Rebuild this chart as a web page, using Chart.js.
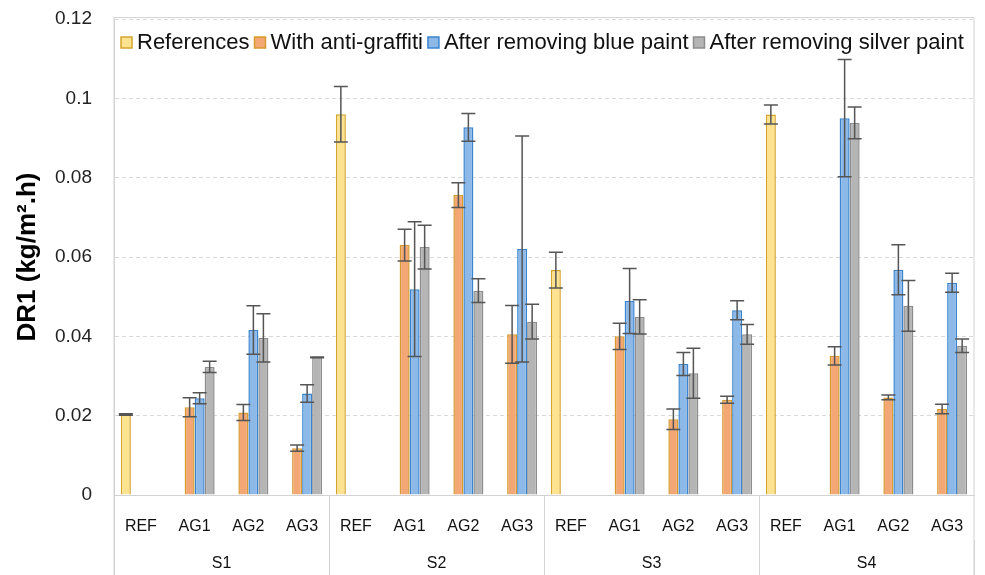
<!DOCTYPE html>
<html>
<head>
<meta charset="utf-8">
<script src="https://cdn.jsdelivr.net/npm/chart.js@4/dist/chart.umd.min.js"></script>
<style>
  html, body { margin: 0; padding: 0; background: #fff; }
  #wrap { width: 985px; height: 575px; }
</style>
</head>
<body>
<div id="wrap"><canvas id="drChart" width="985" height="575"></canvas></div>
<script>
// categories
var groups = ['S1', 'S2', 'S3', 'S4'];
var samples = ['REF', 'AG1', 'AG2', 'AG3'];
var labels = [];
groups.forEach(function () { samples.forEach(function (s) { labels.push(s); }); });

var yTickLabels = ['0', '0.02', '0.04', '0.06', '0.08', '0.1', '0.12'];

// series values (kg/m².h) and error bars
var references     = [0.0203, null, null, null, 0.096, null, null, null, 0.0567, null, null, null, 0.0959, null, null, null];
var referencesErr  = [0.0002, null, null, null, 0.007, null, null, null, 0.0045, null, null, null, 0.0024, null, null, null];
var antiGraffiti   = [null, 0.0221, 0.0208, 0.0118, null, 0.063, 0.0756, 0.0405, null, 0.040, 0.0191, 0.024, null, 0.0351, 0.0246, 0.0217];
var antiErr        = [null, 0.0024, 0.002, 0.0008, null, 0.004, 0.0031, 0.0073, null, 0.0033, 0.0026, 0.0009, null, 0.0023, 0.0006, 0.0012];
var bluePaint      = [null, 0.0244, 0.0416, 0.0256, null, 0.0519, 0.0927, 0.062, null, 0.0489, 0.033, 0.0466, null, 0.095, 0.0568, 0.0535];
var blueErr        = [null, 0.0014, 0.0061, 0.0022, null, 0.017, 0.0035, 0.0285, null, 0.0082, 0.0029, 0.0024, null, 0.0148, 0.0063, 0.0024];
var silverPaint    = [null, 0.0323, 0.0396, 0.0347, null, 0.0625, 0.0515, 0.0437, null, 0.0449, 0.0307, 0.0405, null, 0.0938, 0.0477, 0.0376];
var silverErr      = [null, 0.0014, 0.0061, 0.0001, null, 0.0055, 0.003, 0.0044, null, 0.0043, 0.0063, 0.0025, null, 0.004, 0.0064, 0.0017];

var FONT = "'Liberation Sans', Arial, Helvetica, sans-serif";
var FRAME = '#d3d3d3';

// error bars drawn from the y scale
var errorBars = {
  id: 'errorBars',
  afterDatasetsDraw: function (chart) {
    var ctx = chart.ctx;
    var y = chart.scales.y;
    ctx.save();
    ctx.strokeStyle = '#555';
    ctx.lineWidth = 1.5;
    chart.data.datasets.forEach(function (ds, i) {
      var meta = chart.getDatasetMeta(i);
      meta.data.forEach(function (bar, j) {
        var v = ds.data[j], e = ds.errors[j];
        if (v == null || e == null) return;
        var top = y.getPixelForValue(v + e), bot = y.getPixelForValue(v - e);
        var cx = bar.x, cap = 7;
        ctx.beginPath();
        ctx.moveTo(cx, top); ctx.lineTo(cx, bot);
        ctx.moveTo(cx - cap, top); ctx.lineTo(cx + cap, top);
        ctx.moveTo(cx - cap, bot); ctx.lineTo(cx + cap, bot);
        ctx.stroke();
      });
    });
    ctx.restore();
  }
};

// outer frame + legend inside the plot
var frameLegend = {
  id: 'frameLegend',
  afterDraw: function (chart) {
    var ctx = chart.ctx, a = chart.chartArea, h = chart.height;
    ctx.save();
    ctx.strokeStyle = FRAME;
    ctx.lineWidth = 1;
    ctx.beginPath();
    ctx.moveTo(a.left, h); ctx.lineTo(a.left, a.top - 1.5);
    ctx.lineTo(a.right, a.top - 1.5); ctx.lineTo(a.right, h);
    ctx.stroke();

    ctx.font = '22px ' + FONT;
    ctx.textBaseline = 'middle';
    var x = a.left + 7, yMid = 42.5;
    chart.data.datasets.forEach(function (ds) {
      ctx.fillStyle = ds.backgroundColor;
      ctx.strokeStyle = ds.borderColor;
      ctx.lineWidth = 1.5;
      ctx.fillRect(x, yMid - 5.5, 11, 11);
      ctx.strokeRect(x, yMid - 5.5, 11, 11);
      x += 16;
      ctx.fillStyle = '#111';
      ctx.fillText(ds.label, x, yMid);
      x += ctx.measureText(ds.label).width + 5;
    });
    ctx.restore();
  }
};

function divider(c) { return c.index % 4 === 0 ? FRAME : 'rgba(0,0,0,0)'; }

new Chart(document.getElementById('drChart').getContext('2d'), {
  type: 'bar',
  data: {
    labels: labels,
    datasets: [{
      label: 'References', data: references, errors: referencesErr,
      backgroundColor: '#fde28f', borderColor: '#d4a52c'
    }, {
      label: 'With anti-graffiti', data: antiGraffiti, errors: antiErr,
      backgroundColor: '#f2a775', borderColor: '#d69a2e'
    }, {
      label: 'After removing blue paint', data: bluePaint, errors: blueErr,
      backgroundColor: '#8db9e8', borderColor: '#3a84cf'
    }, {
      label: 'After removing silver paint', data: silverPaint, errors: silverErr,
      backgroundColor: '#b5b5b5', borderColor: '#8d8d8d'
    }]
  },
  options: {
    responsive: false,
    animation: false,
    layout: { padding: { left: 0, right: 11, top: 19, bottom: 0 } },
    datasets: { bar: { borderWidth: 1.5, categoryPercentage: 0.745, barPercentage: 1 } },
    plugins: { legend: { display: false }, tooltip: { enabled: false } },
    scales: {
      y: {
        min: 0, max: 0.12,
        ticks: {
          stepSize: 0.02, padding: 22, color: '#222',
          font: { family: FONT, size: 19 },
          callback: function (v, i) { return yTickLabels[i]; }
        },
        grid: { color: '#d9d9d9', drawTicks: false },
        border: { color: FRAME, dash: [4, 3] },
        title: {
          display: true, text: 'DR1 (kg/m².h)', color: '#000',
          font: { family: FONT, size: 26, weight: 'bold' },
          padding: { top: 12, bottom: 0 }
        },
        afterFit: function (s) { s.width = 114; s.paddingTop = 0; s.paddingBottom = 0; }
      },
      x: {
        weight: 1,
        grid: { offset: true, drawOnChartArea: false, tickLength: 45, color: divider },
        border: { color: FRAME },
        ticks: {
          padding: -23, color: '#111', autoSkip: false, maxRotation: 0,
          font: { family: FONT, size: 16 }
        },
        afterFit: function (s) { s.height = 45; }
      },
      x2: {
        type: 'category', position: 'bottom', weight: 2,
        labels: groups, offset: true,
        grid: { offset: true, drawOnChartArea: false, tickLength: 40, color: FRAME },
        border: { display: false },
        ticks: {
          padding: -26, color: '#111', maxRotation: 0,
          font: { family: FONT, size: 16 }
        },
        afterFit: function (s) { s.height = 35; }
      }
    }
  },
  plugins: [errorBars, frameLegend]
});
</script>
</body>
</html>
